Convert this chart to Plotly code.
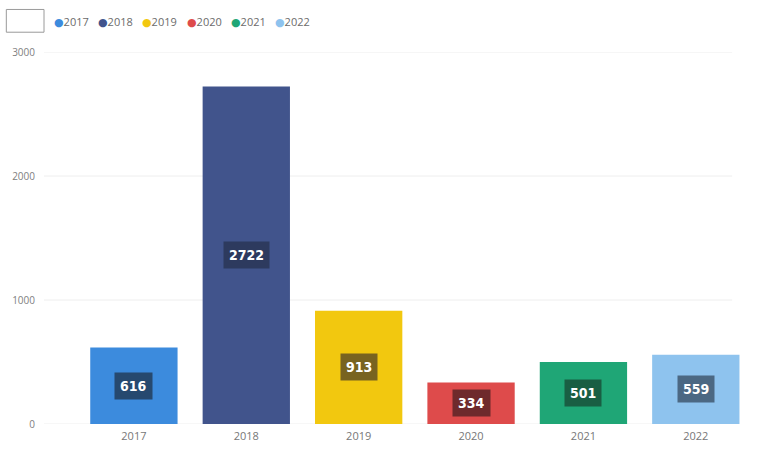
import plotly.graph_objects as go

years = ["2017", "2018", "2019", "2020", "2021", "2022"]
values = [616, 2722, 913, 334, 501, 559]
colors = ["#3C8BDD", "#41548C", "#F2C80F", "#DE4B4B", "#1FA676", "#8EC3EE"]
label_bg = ["#26496F", "#2D3A5E", "#786320", "#6E2A2C", "#195E43", "#4B6883"]
y_ticks = [0, 1000, 2000, 3000]

W, H = 769, 455
L, R, T, B = 38, 17, 52, 27
PW = W - L - R
PH = H - T - B


def px_to_paper_x(px):
    return (px - L) / PW


def px_to_paper_y(py):
    return (H - B - py) / PH


fig = go.Figure()
fig.add_trace(go.Bar(
    x=years, y=values, marker=dict(color=colors, line=dict(width=0)),
    showlegend=False, hoverinfo="x+y",
))

annotations = []
for i, (v, bg) in enumerate(zip(values, label_bg)):
    annotations.append(dict(
        x=i, y=v / 2, xref="x", yref="y", text=f"<b>{v}</b>", showarrow=False,
        font=dict(family="DejaVu Sans Condensed, Liberation Sans Narrow, Arial Narrow, sans-serif",
                  size=14, color="white"),
        bgcolor=bg, borderpad=5,
    ))

# legend built as text items
leg_x0 = 46
leg_step = 44.6
for i, (yr, c) in enumerate(zip(years, colors)):
    annotations.append(dict(
        x=px_to_paper_x(leg_x0 + i * leg_step), y=px_to_paper_y(21),
        xref="paper", yref="paper", xanchor="left", yanchor="middle",
        text=f"<span style='color:{c}'>●</span><span style='color:#6b6b6b'>{yr}</span>",
        showarrow=False,
        font=dict(family="Open Sans, DejaVu Sans, sans-serif", size=11),
    ))

shapes = [dict(
    type="rect", xref="paper", yref="paper",
    x0=px_to_paper_x(0), x1=px_to_paper_x(38), y0=px_to_paper_y(32), y1=px_to_paper_y(9),
    line=dict(color="#9a9a9a", width=1), fillcolor="white", layer="above",
)]
for t in y_ticks:
    shapes.append(dict(
        type="line", xref="paper", yref="y", x0=0, x1=px_to_paper_x(732), y0=t, y1=t,
        line=dict(color="#eeeeee", width=1), layer="below",
    ))

fig.update_layout(
    width=W, height=H,
    margin=dict(l=L, r=R, t=T, b=B),
    paper_bgcolor="white", plot_bgcolor="white",
    bargap=0.223,
    xaxis=dict(
        type="category", range=[-0.8, 5.5], showgrid=False, zeroline=False, showline=False,
        ticks="", ticklabelstandoff=4,
        tickfont=dict(family="Open Sans, DejaVu Sans, sans-serif", size=11, color="#777777"),
    ),
    yaxis=dict(
        range=[0, 3000], tickvals=y_ticks, showgrid=False, zeroline=False, showline=False,
        ticks="", ticklabelstandoff=8,
        tickfont=dict(family="Open Sans, DejaVu Sans, sans-serif", size=10, color="#808080"),
    ),
    annotations=annotations,
    shapes=shapes,
    font=dict(family="Open Sans, DejaVu Sans, sans-serif"),
)

fig.write_html(
    "out.html",
    config={"displayModeBar": False},
    post_script="document.body.style.margin='0';document.body.style.overflow='hidden';",
)
